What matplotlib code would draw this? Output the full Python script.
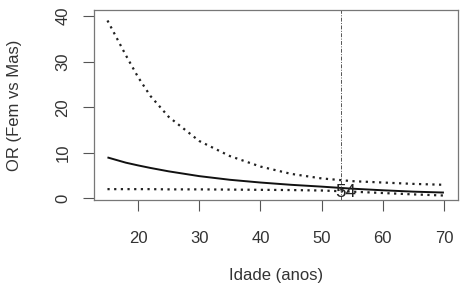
import matplotlib
matplotlib.use("Agg")
import matplotlib.pyplot as plt

plt.rcParams['font.family'] = ['Liberation Sans', 'DejaVu Sans']

ages = [15, 18, 20, 22, 25, 30, 35, 40, 45, 50, 55, 60, 65, 70]
or_est = [9.0, 7.85, 7.25, 6.7, 5.95, 4.9, 4.1, 3.5, 3.0, 2.6, 2.15, 1.8, 1.5, 1.3]
or_upper = [39.0, 31.4, 26.6, 22.5, 17.9, 12.6, 9.3, 7.0, 5.4, 4.4, 3.8, 3.5, 3.2, 3.0]
or_lower = [2.05, 2.05, 2.05, 2.05, 2.0, 2.0, 1.95, 1.9, 1.85, 1.75, 1.5, 1.2, 0.9, 0.65]
cut_age = 53.2
label_text = "54"
label_pos = (54, 1.4)
xticks = [20, 30, 40, 50, 60, 70]
yticks = [0, 10, 20, 30, 40]

fig = plt.figure(figsize=(4.66, 2.84), dpi=100)
ax = fig.add_axes([94/466, 1-200/284, (458-94)/466, (200-10)/284])

ax.plot(ages, or_est, color='#111111', lw=1.4, solid_capstyle='butt')
ax.plot(ages, or_upper, color='#222222', lw=1.6, linestyle=(0, (1, 2)))
ax.plot(ages, or_lower, color='#222222', lw=1.6, linestyle=(0, (1, 2)))
ax.axvline(cut_age, color='#555555', lw=0.7, linestyle=(0, (4, 1.5, 1, 1.5)))
ax.text(label_pos[0], label_pos[1], label_text, ha='center', va='center',
        fontsize=13.5, color='#222222')

ax.set_xlim(12.8, 72.3)
ax.set_ylim(-0.33, 41.3)
ax.set_xticks(xticks)
ax.set_yticks(yticks)
ax.tick_params(axis='both', colors='#555555', labelcolor='#333333',
               labelsize=12, length=8, width=0.8, direction='out')
ax.tick_params(axis='x', pad=14)
ax.tick_params(axis='y', pad=9)
for lab in ax.get_yticklabels():
    lab.set_rotation(90)
    lab.set_va('center')
for sp in ax.spines.values():
    sp.set_color('#777777')
    sp.set_linewidth(0.9)

fig.text(276/466, (284-280)/284, "Idade (anos)", ha='center', va='baseline',
         fontsize=12, color='#333333')
fig.text(15/466, 1-105/284, "OR (Fem vs Mas)", ha='center', va='center',
         rotation=90, fontsize=12, color='#333333')

fig.savefig("out.png", dpi=100)
